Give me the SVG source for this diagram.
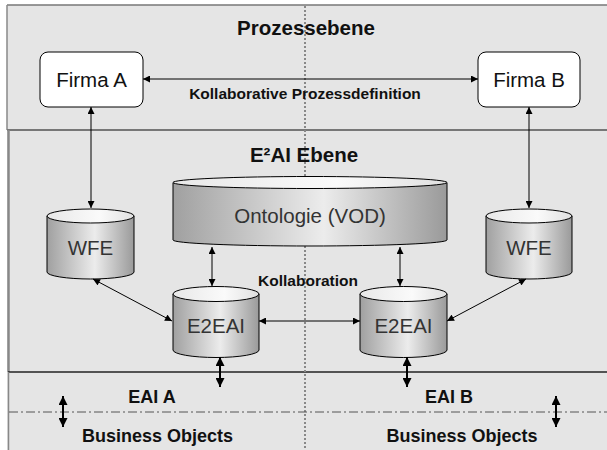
<svg xmlns="http://www.w3.org/2000/svg" width="607" height="450" viewBox="0 0 607 450">
<defs>
<style>
.t{font-family:"Liberation Sans",Arial,sans-serif;text-anchor:middle}
.b{font-weight:bold;fill:#111}
.n{fill:#333;font-size:20.5px}
.ln{stroke:#000;stroke-width:1;fill:none;marker-start:url(#ah);marker-end:url(#ah)}
.lt{stroke:#000;stroke-width:2;fill:none;marker-start:url(#ahb);marker-end:url(#ahb)}
.cyl{fill:url(#gb);stroke:#000;stroke-width:1}
.top{fill:url(#gt);stroke:#000;stroke-width:1}
.firm{fill:#fff;stroke:#000;stroke-width:1}
</style>
<linearGradient id="gb" x1="0" y1="0" x2="1" y2="0">
<stop offset="0" stop-color="#a0a0a0"/>
<stop offset="0.55" stop-color="#ececec"/>
<stop offset="1" stop-color="#9a9a9a"/>
</linearGradient>
<linearGradient id="gt" x1="0" y1="0" x2="1" y2="0">
<stop offset="0" stop-color="#e8e8e8"/>
<stop offset="0.6" stop-color="#fafafa"/>
<stop offset="1" stop-color="#e0e0e0"/>
</linearGradient>
<marker id="ah" viewBox="0 0 10 10" refX="10" refY="5" markerWidth="8" markerHeight="7" markerUnits="userSpaceOnUse" orient="auto-start-reverse">
<path d="M0,0 L10,5 L0,10 z" fill="#000"/>
</marker>
<marker id="ahb" viewBox="0 0 10 10" refX="10" refY="5" markerWidth="9" markerHeight="9" markerUnits="userSpaceOnUse" orient="auto-start-reverse">
<path d="M0,0 L10,5 L0,10 z" fill="#000"/>
</marker>
</defs>
<rect x="0" y="0" width="607" height="450" fill="#fff"/>
<g id="frame">
<rect x="7" y="5" width="610" height="450" fill="#e5e5e5"/>
<line x1="7" y1="5" x2="607" y2="5" stroke="#777" stroke-width="1.5"/>
<line x1="7" y1="5" x2="7" y2="130" stroke="#888" stroke-width="1.5"/>
<line x1="7" y1="130" x2="607" y2="130" stroke="#777" stroke-width="2"/>
<line x1="8.5" y1="130" x2="8.5" y2="372" stroke="#888" stroke-width="2.5"/>
<line x1="8" y1="372" x2="607" y2="372" stroke="#222" stroke-width="1.5"/>
<line x1="8.5" y1="372" x2="8.5" y2="450" stroke="#888" stroke-width="1.5"/>
<line x1="305" y1="6" x2="305" y2="450" stroke="#888" stroke-width="2" stroke-dasharray="2,2"/>
<line x1="9" y1="412" x2="607" y2="412" stroke="#555" stroke-width="1" stroke-dasharray="9,3,2,3"/>
</g>
<g id="labels">
<text class="t b" x="306" y="35" font-size="20.5">Prozessebene</text>
<text class="t b" x="305" y="99" font-size="15.5">Kollaborative Prozessdefinition</text>
<text class="t b" x="304" y="162" font-size="20.5">E²AI Ebene</text>
<text class="t b" x="308" y="286" font-size="15.5">Kollaboration</text>
<text class="t b" x="152" y="403" font-size="18">EAI A</text>
<text class="t b" x="449" y="403" font-size="18">EAI B</text>
<text class="t b" x="157.5" y="442" font-size="18">Business Objects</text>
<text class="t b" x="462" y="442" font-size="18">Business Objects</text>
</g>
<g id="firmaA">
<rect class="firm" x="40" y="52" width="103" height="55" rx="8"/>
<text class="t" x="91.5" y="87" font-size="20.5" fill="#111">Firma A</text>
</g>
<g id="firmaB">
<rect class="firm" x="478" y="52" width="102" height="55" rx="8"/>
<text class="t" x="529" y="87" font-size="20.5" fill="#111">Firma B</text>
</g>
<g id="ontologie">
<path class="cyl" d="M173,182.5 L173,240 A137,6 0 0 0 447,240 L447,182.5 z"/>
<ellipse class="top" cx="310" cy="182.5" rx="137" ry="6"/>
<text class="t n" x="310" y="223">Ontologie (VOD)</text>
</g>
<g id="wfeA">
<path class="cyl" d="M47,216 L47,272 A43.5,7 0 0 0 134,272 L134,216 z"/>
<ellipse class="top" cx="90.5" cy="216" rx="43.5" ry="7"/>
<text class="t n" x="90.5" y="255">WFE</text>
</g>
<g id="wfeB">
<path class="cyl" d="M486,216 L486,272 A43,7 0 0 0 572,272 L572,216 z"/>
<ellipse class="top" cx="529" cy="216" rx="43" ry="7"/>
<text class="t n" x="529" y="255">WFE</text>
</g>
<g id="e2eaiA">
<path class="cyl" d="M173,294 L173,350 A43,7.5 0 0 0 259,350 L259,294 z"/>
<ellipse class="top" cx="216" cy="294" rx="43" ry="7.5"/>
<text class="t n" x="216" y="333">E2EAI</text>
</g>
<g id="e2eaiB">
<path class="cyl" d="M360,294 L360,350 A43.5,7.5 0 0 0 447,350 L447,294 z"/>
<ellipse class="top" cx="403.5" cy="294" rx="43.5" ry="7.5"/>
<text class="t n" x="403.5" y="333">E2EAI</text>
</g>
<g id="connectors">
<line class="ln" x1="143" y1="79" x2="478" y2="79"/>
<line class="ln" x1="91" y1="107" x2="91" y2="208"/>
<line class="ln" x1="529" y1="107" x2="529" y2="208"/>
<line class="ln" x1="212" y1="247" x2="212" y2="286"/>
<line class="ln" x1="400" y1="247" x2="400" y2="286"/>
<line class="ln" x1="93" y1="279" x2="172" y2="321"/>
<line class="ln" x1="526" y1="279" x2="447" y2="321"/>
<line class="ln" x1="259" y1="321" x2="360" y2="321"/>
<line class="lt" x1="220" y1="357" x2="220" y2="387"/>
<line class="lt" x1="407" y1="357" x2="407" y2="387"/>
<line class="lt" x1="63" y1="396" x2="63" y2="427"/>
<line class="lt" x1="556" y1="396" x2="556" y2="427"/>
</g>
</svg>
